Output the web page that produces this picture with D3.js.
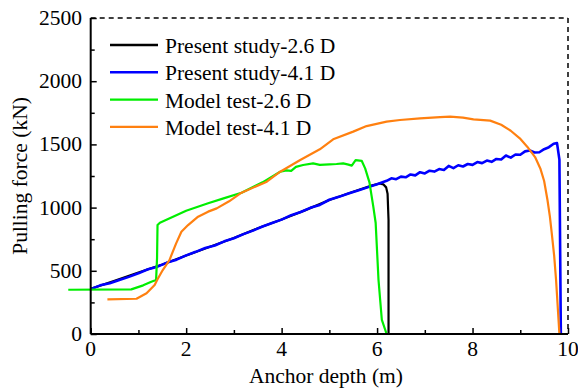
<!DOCTYPE html>
<html>
<head>
<meta charset="utf-8">
<script src="https://cdn.jsdelivr.net/npm/d3@7"></script>
<style>
  body { margin: 0; background: #fff; }
  svg text { font-family: "Times New Roman", "Liberation Serif", serif; fill: #000; }
</style>
</head>
<body>
<svg id="chart" width="578" height="389"></svg>
<script>
// values: [depth m, force kN]
const present26 = [
  [0, 358], [0.5, 420], [1.0, 486], [1.5, 550], [2.0, 621], [2.5, 690], [3.0, 760],
  [3.5, 836], [4.0, 906], [4.5, 980], [5.0, 1060], [5.5, 1126], [5.9, 1176],
  [6.05, 1191], [6.13, 1184], [6.19, 1160], [6.22, 1110], [6.24, 900], [6.24, 0]
];
const present41 = [
  [0, 355], [0.2, 385], [0.4, 402], [0.6, 428], [0.8, 452], [1.0, 480], [1.2, 512],
  [1.4, 533], [1.6, 565], [1.8, 588], [2.0, 622], [2.2, 650], [2.4, 680], [2.6, 700],
  [2.8, 733], [3.0, 758], [3.2, 790], [3.4, 818], [3.6, 850], [3.8, 878], [4.0, 905],
  [4.2, 940], [4.4, 965], [4.6, 998], [4.8, 1021], [5.0, 1062], [5.2, 1085],
  [5.4, 1112], [5.6, 1135], [5.8, 1160], [6.0, 1185], [6.2, 1212], [6.3, 1232],
  [6.4, 1225], [6.5, 1245], [6.6, 1240], [6.7, 1262], [6.8, 1255], [6.9, 1280],
  [7.0, 1270], [7.1, 1292], [7.2, 1285], [7.3, 1305], [7.4, 1298], [7.5, 1330],
  [7.6, 1312], [7.7, 1335], [7.8, 1325], [7.9, 1345], [8.0, 1338], [8.1, 1360],
  [8.2, 1352], [8.3, 1372], [8.4, 1362], [8.5, 1385], [8.6, 1380], [8.7, 1412],
  [8.8, 1395], [8.9, 1420], [9.0, 1418], [9.1, 1445], [9.2, 1452], [9.3, 1436],
  [9.4, 1438], [9.5, 1462], [9.6, 1478], [9.7, 1505], [9.77, 1510], [9.82, 1380],
  [9.85, 0]
];
const model26 = [
  [-0.47, 350], [0.85, 353], [1.1, 385], [1.27, 414], [1.37, 427], [1.39, 600],
  [1.40, 862], [1.45, 880], [2.0, 975], [2.46, 1034], [2.8, 1075], [3.16, 1118],
  [3.6, 1200], [3.97, 1284], [4.1, 1295], [4.2, 1290], [4.3, 1322], [4.45, 1337],
  [4.66, 1350], [4.8, 1338], [5.0, 1342], [5.15, 1345], [5.29, 1350], [5.4, 1340],
  [5.47, 1332], [5.55, 1375], [5.68, 1369], [5.75, 1310], [5.84, 1200], [5.92, 1010],
  [5.97, 880], [6.03, 427], [6.10, 111], [6.2, 0]
];
const model41 = [
  [0.35, 274], [0.96, 279], [1.17, 322], [1.34, 388], [1.40, 433], [1.51, 506],
  [1.65, 585], [1.79, 717], [1.90, 809], [2.04, 862], [2.25, 928], [2.46, 968],
  [2.64, 994], [2.9, 1050], [3.16, 1118], [3.69, 1205], [3.97, 1284], [4.39, 1377],
  [4.80, 1461], [5.08, 1540], [5.5, 1601], [5.78, 1645], [6.2, 1680], [6.48, 1693],
  [6.9, 1706], [7.32, 1716], [7.53, 1719], [7.8, 1712], [8.02, 1698], [8.37, 1688],
  [8.6, 1655], [8.8, 1608], [8.99, 1548], [9.15, 1480], [9.31, 1400], [9.42, 1310],
  [9.5, 1210], [9.57, 1060], [9.62, 930], [9.66, 797], [9.71, 620], [9.75, 427],
  [9.82, 0]
];

const seriesNames = ['Present study-2.6 D', 'Present study-4.1 D', 'Model test-2.6 D', 'Model test-4.1 D'];
const seriesColors = ['#000000', '#0000ff', '#00ee00', '#ff8010'];
const xTicks = [0, 2, 4, 6, 8, 10];
const yTicks = [0, 500, 1000, 1500, 2000, 2500];

var svg = d3.select('#chart');
const padLeft = 90.7, padRight = 568, padTop = 18, padBottom = 334;
const FONT = '21.5px';
const FAMILY = '"Times New Roman", "Liberation Serif", serif';

var x = d3.scaleLinear().domain([0, 10]).range([padLeft, padRight]);
var y = d3.scaleLinear().domain([0, 2500]).range([padBottom, padTop]);

// dashed top and right frame
svg.append('line')
  .attr('x1', padLeft).attr('x2', padRight).attr('y1', padTop).attr('y2', padTop)
  .attr('stroke', '#000').attr('stroke-width', 1.5).attr('stroke-dasharray', '5,4');
svg.append('line')
  .attr('x1', padRight).attr('x2', padRight).attr('y1', padTop).attr('y2', padBottom)
  .attr('stroke', '#000').attr('stroke-width', 1.5).attr('stroke-dasharray', '5,4');

var line = d3.line().x(d => x(d[0])).y(d => y(d[1]));

var data = [present26, present41, model26, model41];
svg.selectAll('path.series')
  .data(data)
  .enter()
  .append('path')
  .attr('class', 'series')
  .attr('d', line)
  .attr('fill', 'none')
  .attr('stroke', (d, i) => seriesColors[i])
  .attr('stroke-width', (d, i) => i === 1 ? 2.6 : 2.2)
  .attr('stroke-linejoin', 'round');

// axes, ticks pointing inward
var xAxis = svg.append('g')
  .attr('transform', `translate(0,${padBottom})`)
  .call(d3.axisBottom(x).tickValues(d3.range(0, 10.01, 1)).tickSize(-4).tickFormat(''));
xAxis.selectAll('.tick line').attr('y2', (d) => d % 2 === 0 ? -6 : -4);
var yAxis = svg.append('g')
  .attr('transform', `translate(${padLeft},0)`)
  .call(d3.axisLeft(y).tickValues(d3.range(0, 2501, 250)).tickSize(-4).tickFormat(''));
yAxis.selectAll('.tick line').attr('x2', (d) => d % 500 === 0 ? 6 : 4);
[xAxis, yAxis].forEach(g => {
  g.select('.domain').attr('stroke', '#000').attr('stroke-width', 2);
  g.selectAll('.tick line').attr('stroke', '#000').attr('stroke-width', 1.5);
});
xAxis.select('.domain').attr('d', `M${padLeft},0H${padRight}`);
yAxis.select('.domain').attr('d', `M0,${padTop}V${padBottom}`);

svg.selectAll('text.xt')
  .data(xTicks)
  .enter()
  .append('text')
  .attr('class', 'xt')
  .attr('x', d => x(d))
  .attr('y', 356)
  .attr('text-anchor', 'middle')
  .attr('font-family', FAMILY)
  .style('font-size', FONT)
  .text(d => d);

svg.selectAll('text.yt')
  .data(yTicks)
  .enter()
  .append('text')
  .attr('class', 'yt')
  .attr('x', 82)
  .attr('y', d => y(d) + 7)
  .attr('text-anchor', 'end')
  .attr('font-family', FAMILY)
  .style('font-size', FONT)
  .text(d => d);

svg.append('text')
  .attr('x', 326)
  .attr('y', 383)
  .attr('text-anchor', 'middle')
  .attr('font-family', FAMILY)
  .style('font-size', FONT)
  .text('Anchor depth (m)');

svg.append('text')
  .attr('transform', 'translate(27,176) rotate(-90)')
  .attr('text-anchor', 'middle')
  .attr('font-family', FAMILY)
  .style('font-size', FONT)
  .text('Pulling force (kN)');

// legend
var legendElem = svg.append('g')
  .selectAll('g')
  .data(seriesNames)
  .enter()
  .append('g')
  .attr('transform', (d, i) => `translate(110,${45 + i * 27.3})`);
legendElem.append('line')
  .attr('x1', 0).attr('x2', 48)
  .attr('stroke', (d, i) => seriesColors[i])
  .attr('stroke-width', 2.4);
legendElem.append('text')
  .attr('x', 55)
  .attr('y', 8)
  .attr('font-family', FAMILY)
  .style('font-size', FONT)
  .text(d => d);
</script>
</body>
</html>
